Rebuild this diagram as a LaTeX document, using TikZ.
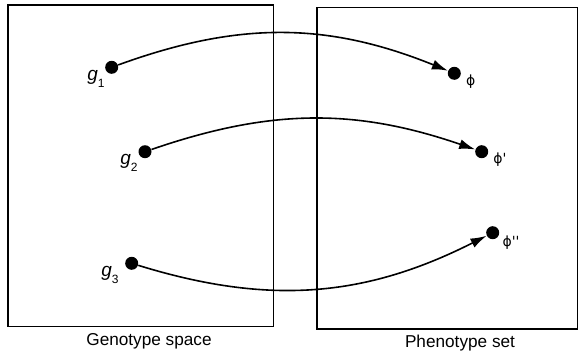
\documentclass[tikz,border=0pt]{standalone}
\usepackage{fontspec}
\setmainfont{Liberation Sans}
\newfontfamily\phifont{DejaVu Sans}
\usetikzlibrary{arrows.meta}
\tikzset{
  gp frame/.style={draw=black, line width=0.8pt},
  gp dot/.style={circle, fill=black, minimum size=6.5pt, inner sep=0pt},
  gp map/.style={draw=black, line width=0.8pt, -{Latex[length=8pt,width=5pt]}},
  gp caption/.style={font=\fontsize{8.6}{10}\selectfont},
  gp gene/.style={font=\fontsize{9.5}{10}\selectfont\itshape, inner sep=0pt},
  gp pheno/.style={font=\fontsize{7}{8}\selectfont\phifont, inner sep=0pt},
}
\newcommand{\gsub}[1]{g\raisebox{-0.7ex}{\upshape\fontsize{6}{6}\selectfont #1}}

\begin{document}
\begin{tikzpicture}[x=0.5pt, y=-0.5pt]
  \useasboundingbox (0,0) rectangle (579,354);

  % the two sets
  \draw[gp frame] (8,5) rectangle (273.5,326.5);
  \draw[gp frame] (317,7.5) rectangle (577.5,329);
  \node[gp caption] (geno) at (149,341) {Genotype space};
  \node[gp caption] (pheno) at (460,343) {Phenotype set};

  % genotypes
  \node[gp dot] (g1) at (111.7,67.3) {};
  \node[gp dot] (g2) at (145,151.7) {};
  \node[gp dot] (g3) at (131.7,263.3) {};
  \node[gp gene] (g1lab) at (96,79) {\gsub{1}};
  \node[gp gene] (g2lab) at (129,163) {\gsub{2}};
  \node[gp gene] (g3lab) at (110,275) {\gsub{3}};

  % phenotypes
  \node[gp dot] (p1) at (454.3,73.3) {};
  \node[gp dot] (p2) at (481.7,151.7) {};
  \node[gp dot] (p3) at (492.7,232.7) {};
  \node[gp pheno] (p1lab) at (470.7,81.7) {ϕ};
  \node[gp pheno] (p2lab) at (500,159.3) {ϕ\char"27};
  \node[gp pheno] (p3lab) at (511,242.7) {ϕ\char"27\char"27};

  \draw[gp map] (g1) to[bend left=21] (p1);
  \draw[gp map] (g2) to[bend left=19] (p2);
  \draw[gp map] (g3) to[bend right=22] (p3);
\end{tikzpicture}
\end{document}
